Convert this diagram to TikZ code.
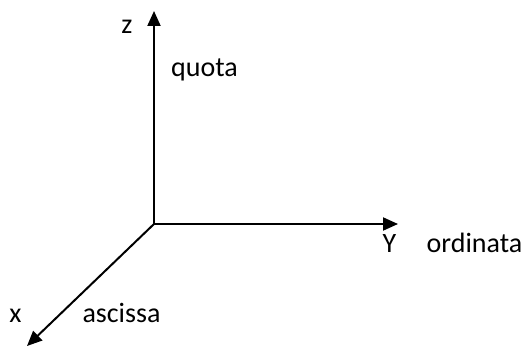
\documentclass[tikz,border=0pt]{standalone}
\usepackage{fontspec}
\setmainfont{Carlito}
\usetikzlibrary{arrows.meta}
\begin{document}
\begin{tikzpicture}[x=1pt,y=-1pt,
  axis/.style={line width=2pt,-{Triangle[length=15pt,width=13pt]}},
  lbl/.style={font=\fontsize{28}{32}\selectfont,inner sep=0pt,anchor=base}]
\useasboundingbox (0,0) rectangle (527,347);
\coordinate (o) at (154,224);
\coordinate (z) at (154,11);
\coordinate (y) at (398,224);
\coordinate (x) at (27,346);
\draw[axis] (o) -- (z);
\draw[axis] (o) -- (y);
\draw[axis] (o) -- (x);
\node[lbl] (zl) at (127,34) {z};
\node[lbl] (ql) at (204.5,77) {quota};
\node[lbl] (yl) at (389.5,253) {Y};
\node[lbl] (ol) at (474.5,253) {ordinata};
\node[lbl] (xl) at (15.5,322) {x};
\node[lbl] (al) at (121.5,322) {ascissa};
\end{tikzpicture}
\end{document}
